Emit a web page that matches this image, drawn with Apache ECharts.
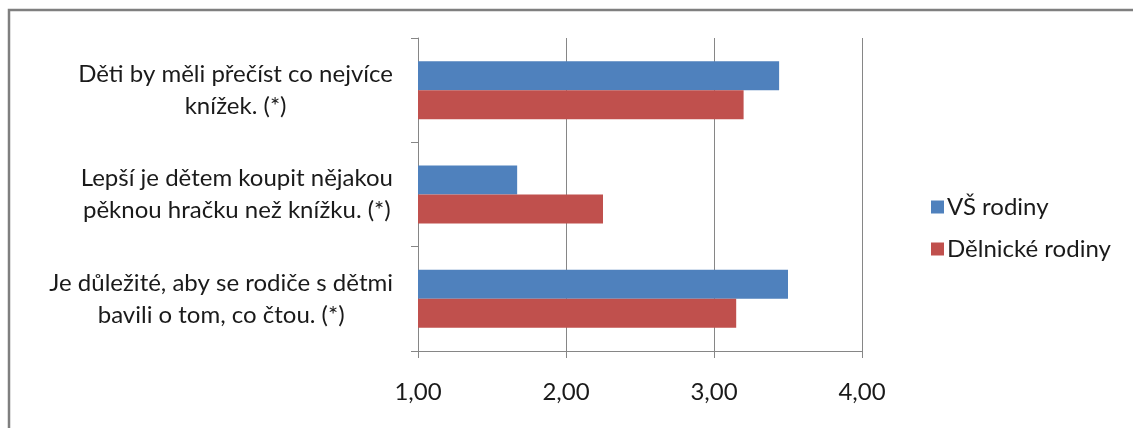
<!DOCTYPE html>
<html>
<head>
<meta charset="utf-8">
<script src="https://cdn.jsdelivr.net/npm/echarts@6/dist/echarts.min.js"></script>
<style>
html,body{margin:0;padding:0;background:#fff;}
#chart{width:1133px;height:428px;}
</style>
</head>
<body>
<div id="chart"></div>
<script>
const categories = [
  "Je důležité, aby se rodiče s dětmi\nbavili o tom, co čtou. (*)",
  "Lepší je dětem koupit nějakou\npěknou hračku než knížku. (*)",
  "Děti by měli přečíst co nejvíce\nknížek. (*)"
];
const seriesNames = ["VŠ rodiny", "Dělnické rodiny"];
const vsRodiny = [3.50, 1.67, 3.44];
const delnickeRodiny = [3.15, 2.25, 3.20];
const xTicks = { min: 1, max: 4, interval: 1 };

const FONT = 'Lato';
const TXT = '#1a1a1a';
const AX = '#868686';

const chart = echarts.init(document.getElementById('chart'), null, { renderer: 'canvas' });
chart.setOption({
  animation: false,
  backgroundColor: '#ffffff',
  graphic: [{
    type: 'rect',
    shape: { x: 9, y: 10, width: 1300, height: 600 },
    style: { fill: 'none', stroke: '#7f7f7f', lineWidth: 2.5 },
    silent: true
  }],
  grid: { left: 418, right: 271, top: 38, bottom: 77, containLabel: false },
  legend: {
    orient: 'vertical',
    left: 926,
    top: 190,
    itemWidth: 13,
    itemHeight: 13,
    itemGap: 18,
    icon: 'rect',
    data: seriesNames,
    textStyle: { fontFamily: FONT, fontSize: 24, color: TXT, padding: [0, 0, 0, -2] }
  },
  xAxis: {
    type: 'value',
    min: xTicks.min,
    max: xTicks.max,
    interval: xTicks.interval,
    axisLine: { show: true, lineStyle: { color: AX, width: 1 } },
    axisTick: { show: true, length: 7, lineStyle: { color: AX } },
    splitLine: { show: true, lineStyle: { color: AX, width: 1 } },
    axisLabel: {
      margin: 29,
      fontFamily: FONT,
      fontSize: 24,
      color: TXT,
      formatter: v => v.toFixed(2).replace('.', ',')
    }
  },
  yAxis: {
    type: 'category',
    data: categories,
    axisLine: { show: true, lineStyle: { color: AX, width: 1 } },
    axisTick: { show: true, length: 7, lineStyle: { color: AX } },
    splitLine: { show: false },
    axisLabel: {
      margin: 25,
      align: 'right',
      formatter: v => v.split('\n').map(l => '{c|' + l + '}').join('\n'),
      rich: {
        c: { align: 'center', fontFamily: FONT, fontSize: 24, lineHeight: 32, color: TXT }
      }
    }
  },
  series: [
    {
      name: seriesNames[0],
      type: 'bar',
      data: vsRodiny,
      barWidth: 29,
      barGap: '0%',
      itemStyle: { color: '#4F81BD' }
    },
    {
      name: seriesNames[1],
      type: 'bar',
      data: delnickeRodiny,
      barWidth: 29,
      barGap: '0%',
      itemStyle: { color: '#C0504D' }
    }
  ]
});
</script>
</body>
</html>
